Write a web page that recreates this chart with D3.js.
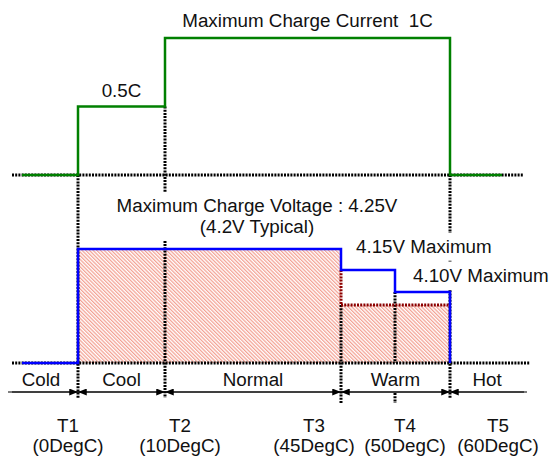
<!DOCTYPE html>
<html>
<head>
<meta charset="utf-8">
<script src="https://cdn.jsdelivr.net/npm/d3@7"></script>
<style>
  body { margin: 0; background: #fff; }
  svg text { font-family: "Liberation Sans", Arial, sans-serif; font-size: 18.8px; fill: #111; }
</style>
</head>
<body>
<svg id="chart" width="553" height="459"></svg>
<script>
// 溫度分界點
const boundaryNames = ["T1", "T2", "T3", "T4", "T5"];
const boundaryTemps = [0, 10, 45, 50, 60];
const boundaryLabels = ["(0DegC)", "(10DegC)", "(45DegC)", "(50DegC)", "(60DegC)"];

// 溫度區間
const regionNames = ["Cold", "Cool", "Normal", "Warm", "Hot"];
const regionStart = [-20, 0, 10, 45, 60];
const regionEnd = [0, 10, 45, 60, 75];

// 充電電流 (C)
const currentStart = [-17, 0, 10, 45, 60];
const currentEnd = [0, 10, 45, 60, 70];
const currentValues = [0, 0.5, 1, 1, 0];

// 最大充電電壓 (V)，0 = 不充電
const voltageStart = [-17, 0, 45, 50];
const voltageEnd = [0, 45, 50, 60];
const voltageValues = [0, 4.25, 4.15, 4.10];

// 典型充電電壓 (填色區)
const typicalStart = [0, 45];
const typicalEnd = [45, 60];
const typicalValues = [4.25, 4.05];

const svg = d3.select("#chart");

// 示意圖用的分段比例尺
const x = d3.scaleLinear()
  .domain([-20, -17, 0, 10, 45, 50, 60, 70, 75])
  .range([12, 22, 78, 165, 341, 395, 450, 502, 524]);
const yCur = d3.scaleLinear().domain([0, 1]).range([175, 38]);
const yV = d3.scaleLinear()
  .domain([0, 4.05, 4.10, 4.15, 4.25])
  .range([363, 305, 292, 270, 249]);
const arrowY = 392;

// 斜線填色
const defs = svg.append("defs");
const pat = defs.append("pattern")
  .attr("id", "hatch")
  .attr("patternUnits", "userSpaceOnUse")
  .attr("width", 2.6).attr("height", 2.6)
  .attr("patternTransform", "rotate(-45)");
pat.append("rect").attr("width", 2.6).attr("height", 2.6).attr("fill", "#fff");
pat.append("line").attr("x1", 0.65).attr("y1", 0).attr("x2", 0.65).attr("y2", 2.6)
  .attr("stroke", "#f29585").attr("stroke-width", 1.1);

const marker = (id, orient) => defs.append("marker")
  .attr("id", id)
  .attr("viewBox", "0 0 10 8")
  .attr("refX", 10).attr("refY", 4)
  .attr("markerWidth", 10).attr("markerHeight", 7)
  .attr("markerUnits", "userSpaceOnUse")
  .attr("orient", orient)
  .append("path").attr("d", "M0,0L10,4L0,8Z").attr("fill", "#000");
marker("arrEnd", "auto");
marker("arrStart", "auto-start-reverse");

typicalValues.forEach((v, i) => {
  svg.append("rect")
    .attr("x", x(typicalStart[i]))
    .attr("y", yV(v))
    .attr("width", x(typicalEnd[i]) - x(typicalStart[i]))
    .attr("height", yV(0) - yV(v))
    .attr("fill", "url(#hatch)");
});

const dotted = (x1, y1, x2, y2, color) => svg.append("line")
  .attr("x1", x1).attr("y1", y1).attr("x2", x2).attr("y2", y2)
  .attr("stroke", color || "#000")
  .attr("stroke-width", 3)
  .attr("stroke-dasharray", "2,1.2");

// 水平虛線 (基準線)
dotted(x(-20), yCur(0), x(75) - 1, yCur(0));
dotted(x(-20), yV(0), x(75) + 6, yV(0));

// 垂直虛線
dotted(x(0), yCur(0), x(0), arrowY + 7);
dotted(x(10), yCur(0.5), x(10), arrowY + 6);
dotted(x(45), yV(4.05), x(45), arrowY + 11);
dotted(x(50), yV(4.10), x(50), yV(0));
dotted(x(50), arrowY + 1, x(50), arrowY + 11);
dotted(x(60), yCur(0), x(60), arrowY + 7);

// 典型電壓 (暗紅虛線)
dotted(x(45), yV(4.15), x(45), yV(4.05), "#8b0000");
dotted(x(45), yV(4.05), x(60), yV(4.05), "#8b0000");

// 文字 (白底遮住虛線)
function label(tx, ty, lines, anchor, lh) {
  const g = svg.append("g");
  const bg = g.append("rect").attr("fill", "#fff");
  const t = g.append("text").attr("x", tx).attr("y", ty).attr("text-anchor", anchor || "middle");
  lines.forEach((s, i) => t.append("tspan").attr("x", tx).attr("dy", i ? (lh || 21) : 0).text(s));
  const b = t.node().getBBox();
  bg.attr("x", b.x - 2).attr("y", b.y - 3).attr("width", b.width + 4).attr("height", b.height + 6);
  return g;
}

// 電流線 (綠)
const curPts = [];
currentValues.forEach((v, i) => {
  curPts.push([x(currentStart[i]), yCur(v)]);
  curPts.push([x(currentEnd[i]), yCur(v)]);
});
svg.append("path")
  .attr("d", d3.line()(curPts))
  .attr("fill", "none").attr("stroke", "#008000").attr("stroke-width", 2.5);

// 電壓線 (藍)
const vPts = [];
voltageValues.forEach((v, i) => {
  vPts.push([x(voltageStart[i]), yV(v)]);
  vPts.push([x(voltageEnd[i]), yV(v)]);
});
vPts.push([x(60), yV(0)]);
svg.append("path")
  .attr("d", d3.line()(vPts))
  .attr("fill", "none").attr("stroke", "#0000ff").attr("stroke-width", 2.5);

// 標籤
svg.append("text").attr("x", (x(0) + x(10)) / 2).attr("y", yCur(0.5) - 10)
  .attr("text-anchor", "middle").text("0.5C");
svg.append("text").attr("x", (x(10) + x(60)) / 2).attr("y", yCur(1) - 11)
  .attr("text-anchor", "middle").attr("xml:space", "preserve").text("Maximum Charge Current  1C");

label((x(10) + x(45)) / 2 + 4, yV(4.25) - 37,
  ["Maximum Charge Voltage : 4.25V", "(4.2V Typical)"]);
label(x(45) + 15, yV(4.15) - 17, ["4.15V Maximum"], "start");
label(x(50) + 18, yV(4.10) - 10, ["4.10V Maximum"], "start");

// 區間箭頭列
svg.append("line")
  .attr("x1", x(-20) - 4).attr("y1", arrowY).attr("x2", x(75) + 3).attr("y2", arrowY)
  .attr("stroke", "#000").attr("stroke-width", 1);
regionNames.forEach((name, i) => {
  const a = x(regionStart[i]), b = x(regionEnd[i]);
  const seg = svg.append("line")
    .attr("x1", a).attr("y1", arrowY).attr("x2", b).attr("y2", arrowY)
    .attr("stroke", "#000").attr("stroke-width", 1);
  if (i > 0) seg.attr("marker-start", "url(#arrStart)");
  if (i < regionNames.length - 1) seg.attr("marker-end", "url(#arrEnd)");
  svg.append("text").attr("x", (a + b) / 2 - (i === 0 ? 4 : 0)).attr("y", arrowY - 6)
    .attr("text-anchor", "middle").text(name);
});

// 溫度標籤 (與分界線略有偏移)
const labelDx = [-10, 15, -27, 10, 48];
boundaryNames.forEach((n, i) => {
  const cx = x(boundaryTemps[i]) + labelDx[i];
  svg.append("text").attr("x", cx).attr("y", arrowY + 40).attr("text-anchor", "middle").text(n);
  svg.append("text").attr("x", cx).attr("y", arrowY + 60).attr("text-anchor", "middle").text(boundaryLabels[i]);
});
</script>
</body>
</html>
